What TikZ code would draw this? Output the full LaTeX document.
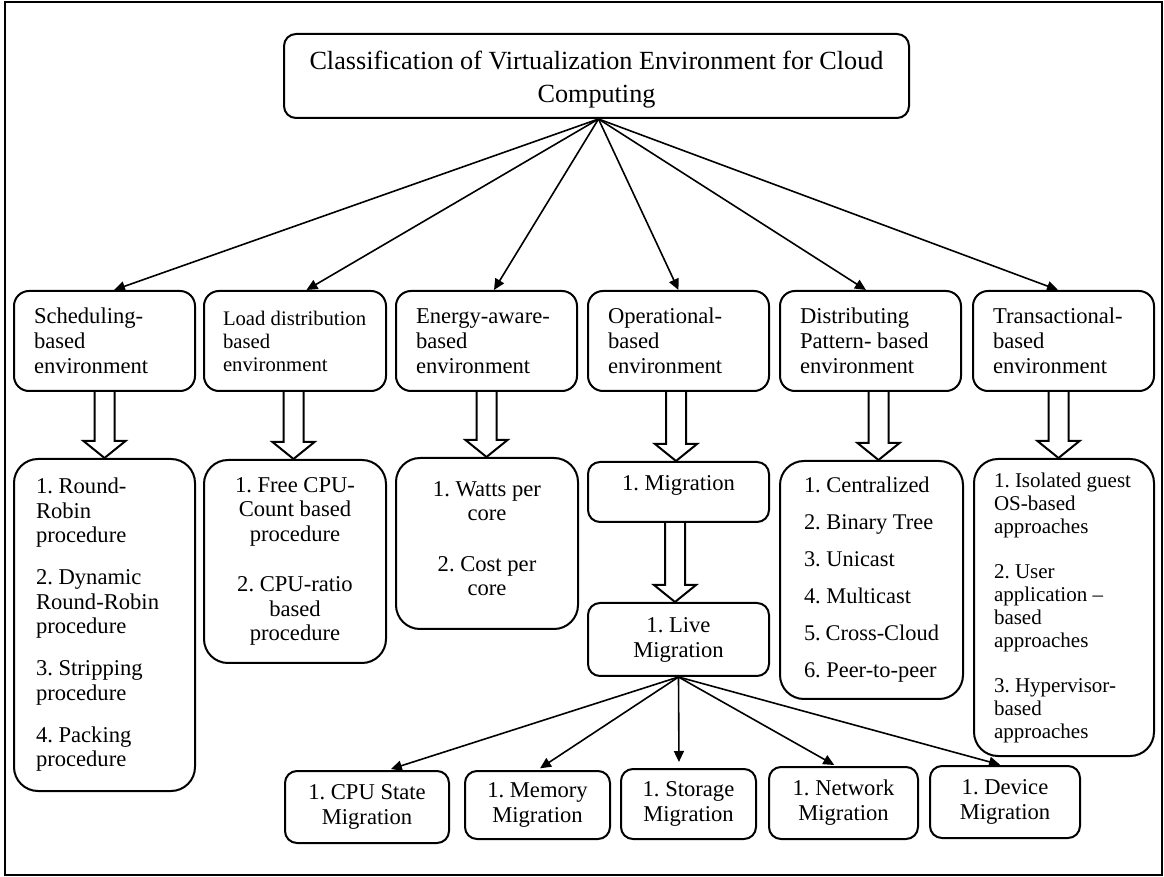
\documentclass[tikz,border=0pt]{standalone}
\usepackage{fontspec}
\setmainfont{Liberation Serif}
\usetikzlibrary{arrows.meta,calc}
\frenchspacing
\hyphenpenalty=10000
\exhyphenpenalty=10000

% text sizes
\newcommand\ftitle{\fontsize{13.1}{16.5}\selectfont}
\newcommand\fcat{\fontsize{11.3}{12.5}\selectfont}
\newcommand\fcatsmall{\fontsize{10.35}{11.5}\selectfont}
\newcommand\flist{\fontsize{11.3}{12.25}\selectfont}
\newcommand\flistwide{\fontsize{11.2}{18.5}\selectfont}
\newcommand\flistsmall{\fontsize{10.5}{11.5}\selectfont}

% hollow block arrow from the bottom of one box to the top of another
\newcommand\fatarrow[3]{%
  \draw[fat] let \p1=($(#1.south)+(#3,0)$), \p2=(#2.north) in
    (\x1-5pt,\y1) -- (\x1-5pt,\y2+8.5pt) -- (\x1-10.5pt,\y2+8.5pt)
    -- (\x1,\y2) -- (\x1+10.5pt,\y2+8.5pt) -- (\x1+5pt,\y2+8.5pt)
    -- (\x1+5pt,\y1);}

\tikzset{
  every node/.style={execute at begin node={\spaceskip=0pt\xspaceskip=0pt\frenchspacing}},
  titlebox/.style={draw, line width=1pt, rounded corners=6pt, anchor=north west,
    minimum width=312.5pt, minimum height=42pt, align=center, font=\ftitle},
  catbox/.style={draw, line width=1pt, rounded corners=7.5pt, anchor=north west,
    text width=70.5pt, inner xsep=10pt, inner ysep=0pt, minimum height=50pt,
    align=left, font=\fcat},
  listbox/.style={draw, line width=1pt, rounded corners=12pt, anchor=north west,
    inner ysep=0pt},
  midbox/.style={draw, line width=1pt, rounded corners=6pt, anchor=north west,
    minimum width=90.5pt, inner sep=0pt, align=center, font=\fcat},
  leafbox/.style={draw, line width=1pt, rounded corners=6pt, anchor=north west,
    inner sep=0pt, align=center, font=\fcat},
  link/.style={line width=0.8pt, -{Triangle[length=5.5pt,width=5pt]}},
  fat/.style={line width=1pt, line join=miter},
}

\begin{document}
\begin{tikzpicture}[x=0.5pt,y=-0.5pt]
\useasboundingbox (0,0) rectangle (1164,877);
\draw[line width=1.2pt] (5,2) rectangle (1162,875);

% root
\node[titlebox] (root) at (283,33)
  {\rule{0pt}{13pt}Classification of Virtualization Environment for Cloud\\Computing};

% environment categories
\node[catbox] (sched) at (13,290) {Scheduling-\\based\\environment};
\node[catbox, font=\fcatsmall, text width=72pt, inner xsep=9.5pt] (load) at (203,290)
  {Load distribution\\based\\environment};
\node[catbox] (energy) at (395,290) {Energy-aware-\\based\\environment};
\node[catbox] (oper) at (587,290) {Operational-\\based\\environment};
\node[catbox] (distr) at (779,290) {Distributing\\Pattern- based\\environment};
\node[catbox] (trans) at (972,290) {Transactional-\\based\\environment};

% approaches of each category
\node[listbox, text width=68.5pt, inner xsep=11pt, minimum height=166pt,
      align=left, font=\flist] (schedlist) at (13,458)
  {1. Round-\\Robin\\procedure\\[8.75pt]2. Dynamic\\Round-Robin\\procedure\\[8.75pt]3. Stripping\\procedure\\[8.75pt]4. Packing\\procedure};
\node[listbox, minimum width=91pt, minimum height=101.5pt, align=center,
      font=\flist] (loadlist) at (203,459)
  {1. Free CPU-\\Count based\\procedure\\[13pt]2. CPU-ratio\\based\\procedure};
\node[listbox, minimum width=91pt, minimum height=85.5pt, align=center,
      font=\flist, text depth=5pt] (energylist) at (395,457)
  {1. Watts per\\core\\[13pt]2. Cost per\\core};
\node[midbox, minimum height=30pt, text height=8pt, text depth=9pt] (mig) at (587,461)
  {1. Migration};
\node[midbox, minimum height=36.5pt] (live) at (587,602) {1. Live\\Migration};
\node[listbox, text width=67.5pt, inner xsep=12pt, minimum height=119pt,
      align=left, font=\flistwide] (distrlist) at (779,460)
  {1. Centralized\\2. Binary Tree\\3. Unicast\\4. Multicast\\5. Cross-Cloud\\6. Peer-to-peer};
\node[listbox, text width=70pt, inner xsep=10pt, minimum height=148.5pt,
      align=left, font=\flistsmall] (translist) at (973,458)
  {1. Isolated guest\\OS-based\\approaches\\[11pt]2. User\\application --\\based\\approaches\\[11pt]3. Hypervisor-\\based\\approaches};

% kinds of live migration
\node[leafbox, minimum width=82pt, minimum height=36pt] (cpu) at (284,770) {1. CPU State\\Migration};
\node[leafbox, minimum width=72.5pt, minimum height=34pt] (mem) at (464,770) {1. Memory\\Migration};
\node[leafbox, minimum width=67.5pt, minimum height=35pt] (sto) at (620,768) {1. Storage\\Migration};
\node[leafbox, minimum width=74.5pt, minimum height=36pt] (net) at (768,766) {1. Network\\Migration};
\node[leafbox, minimum width=75pt, minimum height=36pt] (dev) at (929,765) {1. Device\\Migration};

% connectors from the root
\coordinate (hub) at ($(root.south)+(2,0)$);
\draw[link] (hub) -- ($(sched.north)+(9.5,0)$);
\draw[link] (hub) -- ($(load.north)+(11.5,0)$);
\draw[link] (hub) -- ($(energy.north)+(7.5,0)$);
\draw[link] (hub) -- (oper.north);
\draw[link] (hub) -- ($(distr.north)+(-4.5,0)$);
\draw[link] (hub) -- ($(trans.north)+(-5.5,0)$);

% block arrows
\fatarrow{sched}{schedlist}{0}
\fatarrow{load}{loadlist}{-1.5}
\fatarrow{energy}{energylist}{0}
\fatarrow{oper}{mig}{-2.5}
\fatarrow{distr}{distrlist}{8}
\fatarrow{trans}{translist}{-5}
\fatarrow{mig}{live}{-3.5}

% connectors from live migration
\draw[link, shorten >=1.5pt] (live.south) -- ($(cpu.north)+(21,0)$);
\draw[link, shorten >=1.5pt] (live.south) -- (mem.north);
\draw[link, shorten >=3pt] (live.south) -- ($(sto.north)+(-9.5,0)$);
\draw[link, shorten >=1pt] (live.south) -- ($(net.north)+(-7.5,0)$);
\draw[link, shorten >=0.5pt] (live.south) -- ($(dev.north)+(-4,0)$);
\end{tikzpicture}
\end{document}
